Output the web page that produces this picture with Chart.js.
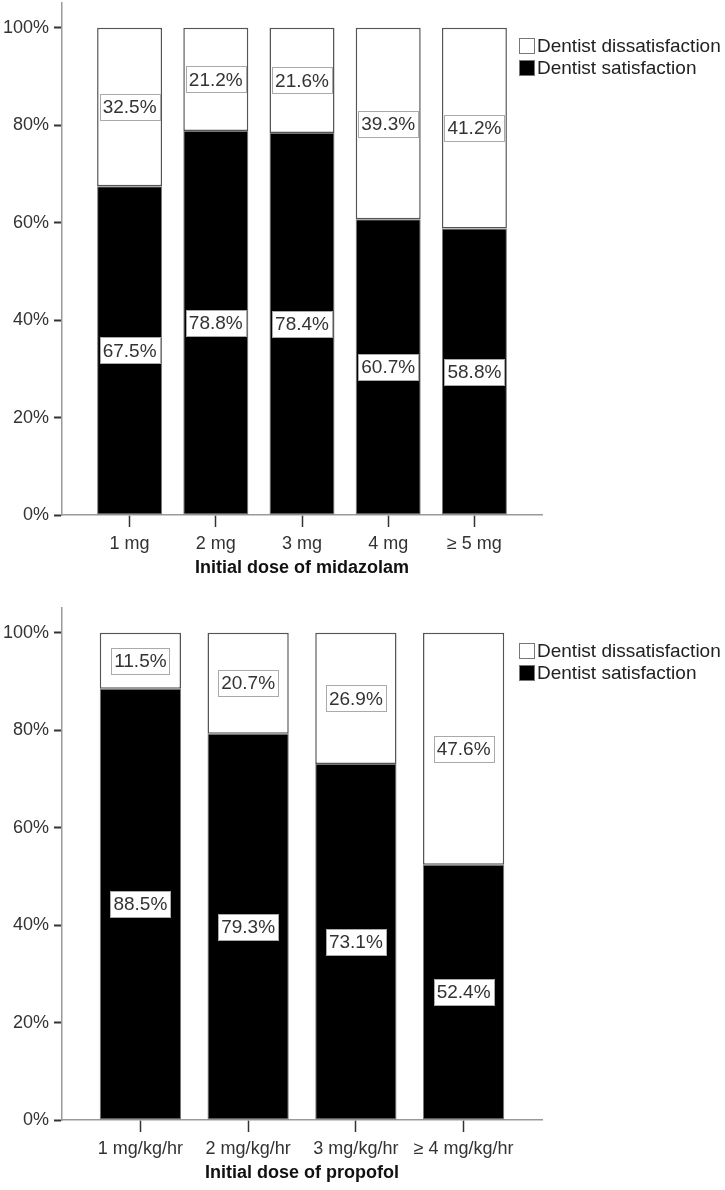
<!DOCTYPE html>
<html>
<head>
<meta charset="utf-8">
<script src="https://cdn.jsdelivr.net/npm/chart.js@4"></script>
<style>
  body { margin: 0; background: #fff; }
  .box { position: absolute; left: 0; width: 725px; height: 585px; }
</style>
</head>
<body>
<div class="box" style="top:0"><canvas id="c1" width="725" height="585"></canvas></div>
<div class="box" style="top:605px"><canvas id="c2" width="725" height="585"></canvas></div>
<script>
// chart 1 - midazolam
const midaLabels = ['1 mg', '2 mg', '3 mg', '4 mg', '\u2265 5 mg'];
const midaSat = [67.5, 78.8, 78.4, 60.7, 58.8];
const midaDis = [32.5, 21.2, 21.6, 39.3, 41.2];
const midaTitle = 'Initial dose of midazolam';

// chart 2 - propofol
const propLabels = ['1 mg/kg/hr', '2 mg/kg/hr', '3 mg/kg/hr', '\u2265 4 mg/kg/hr'];
const propSat = [88.5, 79.3, 73.1, 52.4];
const propDis = [11.5, 20.7, 26.9, 47.6];
const propTitle = 'Initial dose of propofol';

const yTicks = [0, 20, 40, 60, 80, 100];
const seriesNames = ['Dentist satisfaction', 'Dentist dissatisfaction'];

Chart.defaults.font.family = '"Liberation Sans", Arial, sans-serif';
Chart.defaults.color = '#333';

// value boxes in the middle of each segment
const valueLabels = {
  id: 'valueLabels',
  afterDatasetsDraw(chart) {
    const ctx = chart.ctx;
    ctx.save();
    ctx.font = '19px "Liberation Sans", Arial';
    ctx.textAlign = 'center';
    ctx.textBaseline = 'middle';
    chart.data.datasets.forEach((ds, di) => {
      chart.getDatasetMeta(di).data.forEach((bar, i) => {
        const txt = ds.data[i].y.toFixed(1) + '%';
        const w = Math.round(ctx.measureText(txt).width + 6);
        const h = 26;
        const cx = bar.x, cy = (bar.y + bar.base) / 2;
        const bx = Math.round(cx - w / 2), by = Math.round(cy - h / 2);
        ctx.fillStyle = '#fff';
        ctx.fillRect(bx, by, w, h);
        ctx.strokeStyle = '#aaa';
        ctx.lineWidth = 1;
        ctx.strokeRect(bx + 0.5, by + 0.5, w, h);
        ctx.fillStyle = '#333';
        ctx.fillText(txt, cx, cy + 1);
      });
    });
    ctx.restore();
  }
};

// legend in the top right corner, top series first
const cornerLegend = {
  id: 'cornerLegend',
  afterDraw(chart) {
    const ctx = chart.ctx;
    const x = chart.chartArea.right - 23;
    let y = chart.chartArea.top + 43;
    ctx.save();
    ctx.font = '19px "Liberation Sans", Arial';
    ctx.textBaseline = 'middle';
    ctx.textAlign = 'left';
    chart.data.datasets.slice().reverse().forEach(ds => {
      ctx.fillStyle = ds.backgroundColor;
      ctx.fillRect(x, y - 8, 16, 16);
      ctx.strokeStyle = '#777';
      ctx.lineWidth = 1;
      ctx.strokeRect(x + 0.5, y - 7.5, 15, 15);
      ctx.fillStyle = '#222';
      ctx.fillText(ds.label, x + 18, y + 1);
      y += 22;
    });
    ctx.restore();
  }
};

function makeChart(id, labels, sat, dis, title) {
  const n = labels.length;
  const slot = (480 - 49) / n;
  const pad = 0.5 + 24.5 / slot;
  return new Chart(document.getElementById(id), {
    type: 'bar',
    data: {
      datasets: [
        {
          label: seriesNames[0],
          data: sat.map((v, i) => ({ x: i, y: v })),
          backgroundColor: '#000',
          borderColor: '#777',
          borderWidth: 1,
          borderSkipped: false
        },
        {
          label: seriesNames[1],
          data: dis.map((v, i) => ({ x: i, y: v })),
          backgroundColor: '#fff',
          borderColor: '#555',
          borderWidth: 1.5,
          borderSkipped: false
        }
      ]
    },
    options: {
      responsive: false,
      animation: false,
      devicePixelRatio: 1,
      layout: { autoPadding: false, padding: { top: 3, right: 183, left: 0, bottom: 0 } },
      plugins: { legend: { display: false }, tooltip: { enabled: false } },
      datasets: { bar: { categoryPercentage: 1, barPercentage: 0.754 } },
      scales: {
        x: {
          type: 'linear',
          stacked: true,
          offset: false,
          min: -pad,
          max: n - 1 + pad,
          afterFit(s) { s.height = 70; s.paddingLeft = 0; s.paddingRight = 0; },
          grid: { offset: false, drawOnChartArea: false, tickLength: 12, tickColor: '#333', tickWidth: 1.5 },
          border: { color: '#999', width: 1.5 },
          ticks: {
            stepSize: 1,
            includeBounds: false,
            autoSkip: false,
            maxRotation: 0,
            padding: 6,
            font: { size: 18 },
            callback: v => labels[v] !== undefined ? labels[v] : ''
          },
          title: {
            display: true,
            text: title,
            font: { size: 18, weight: 'bold' },
            color: '#111',
            padding: { top: 0, bottom: 6 }
          }
        },
        y: {
          stacked: true,
          min: 0,
          max: 105.1,
          afterFit(s) { s.width = 62; s.paddingTop = 0; s.paddingBottom = 0; },
          afterBuildTicks(s) { s.ticks = yTicks.map(v => ({ value: v })); },
          grid: { drawOnChartArea: false, tickLength: 8, tickColor: '#333', tickWidth: 2 },
          border: { color: '#999', width: 1.5 },
          ticks: {
            padding: 5,
            font: { size: 18 },
            callback: v => v + '%'
          }
        }
      }
    },
    plugins: [valueLabels, cornerLegend]
  });
}

makeChart('c1', midaLabels, midaSat, midaDis, midaTitle);
makeChart('c2', propLabels, propSat, propDis, propTitle);
</script>
</body>
</html>
